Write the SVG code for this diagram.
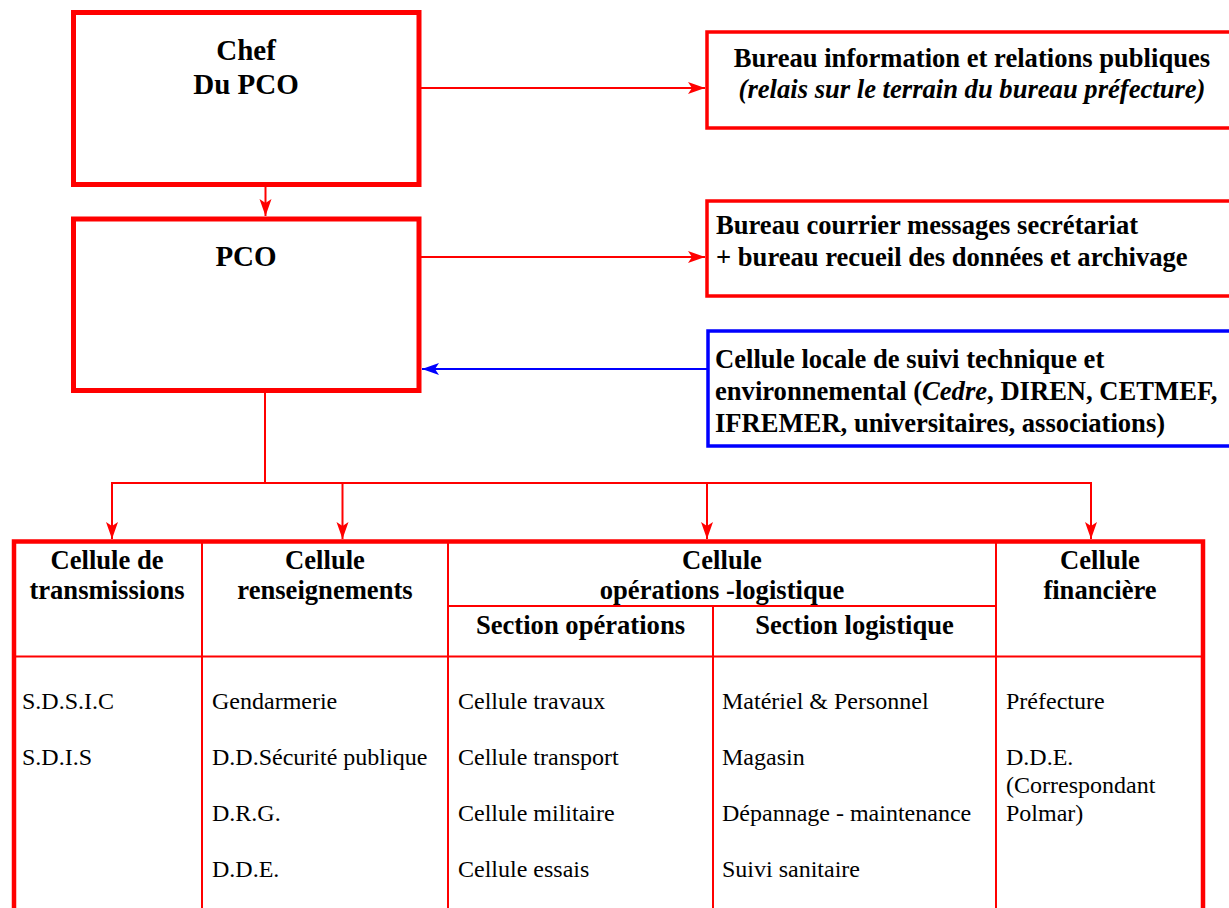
<svg xmlns="http://www.w3.org/2000/svg" width="1229" height="908" viewBox="0 0 1229 908">
<style>
.box{fill:#fff;stroke:#ff0000;stroke-width:5}
.sbox{fill:#fff;stroke:#ff0000;stroke-width:3.5}
.bbox{fill:#fff;stroke:#0000ff;stroke-width:3.5}
.con{fill:none;stroke:#ff0000;stroke-width:2}
.bcon{fill:none;stroke:#0000ff;stroke-width:2}
.grid{fill:none;stroke:#ff0000;stroke-width:2}
.outer{fill:none;stroke:#ff0000;stroke-width:4.5}
text{font-family:"Liberation Serif","Times New Roman",serif;fill:#000}
.big{font-size:29px;font-weight:bold}
.hb{font-size:26.6px;font-weight:bold}
.rg{font-size:24px}
.mid{text-anchor:middle}
</style>
<defs>
<marker id="ar" markerUnits="userSpaceOnUse" markerWidth="20" markerHeight="14" viewBox="-18 -7 20 14" refX="0" refY="0" orient="auto">
<path d="M0,0 L-17,-6 L-13,0 L-17,6 Z" fill="#ff0000"/>
</marker>
<marker id="ab" markerUnits="userSpaceOnUse" markerWidth="20" markerHeight="14" viewBox="-18 -7 20 14" refX="0" refY="0" orient="auto">
<path d="M0,0 L-17,-6 L-13,0 L-17,6 Z" fill="#0000ff"/>
</marker>
</defs>

<g id="connectors">
<line class="con" x1="421" y1="88" x2="705" y2="88" marker-end="url(#ar)"/>
<line class="con" x1="265.5" y1="182" x2="265.5" y2="216" marker-end="url(#ar)"/>
<line class="con" x1="421" y1="257" x2="705" y2="257" marker-end="url(#ar)"/>
<line class="bcon" x1="707" y1="369" x2="422" y2="369" marker-end="url(#ab)"/>
<line class="con" x1="265" y1="392" x2="265" y2="483"/>
<line class="con" x1="111" y1="483" x2="1092" y2="483"/>
<line class="con" x1="112" y1="483" x2="112" y2="539" marker-end="url(#ar)"/>
<line class="con" x1="342.5" y1="483" x2="342.5" y2="539" marker-end="url(#ar)"/>
<line class="con" x1="707" y1="483" x2="707" y2="539" marker-end="url(#ar)"/>
<line class="con" x1="1091" y1="483" x2="1091" y2="539" marker-end="url(#ar)"/>
</g>

<g id="chef">
<rect class="box" x="73.5" y="12.5" width="345.5" height="172"/>
<text class="big mid" x="246" y="60">Chef</text>
<text class="big mid" x="246" y="94">Du PCO</text>
</g>

<g id="pco">
<rect class="box" x="73.5" y="219" width="345.5" height="171.5"/>
<text class="big mid" x="246" y="266">PCO</text>
</g>

<g id="bureau-info">
<rect class="sbox" x="707" y="32" width="540" height="96"/>
<text class="hb mid" x="972" y="67">Bureau information et relations publiques</text>
<text class="hb mid" x="972" y="98" font-style="italic">(relais sur le terrain du bureau préfecture)</text>
</g>

<g id="bureau-courrier">
<rect class="sbox" x="707" y="201" width="540" height="95"/>
<text class="hb" x="716" y="234">Bureau courrier messages secrétariat</text>
<text class="hb" x="716" y="266">+ bureau recueil des données et archivage</text>
</g>

<g id="cellule-locale">
<rect class="bbox" x="708" y="331" width="540" height="115"/>
<text class="hb" x="715" y="368">Cellule locale de suivi technique et</text>
<text class="hb" x="715" y="400">environnemental (<tspan font-style="italic">Cedre</tspan>, DIREN, CETMEF,</text>
<text class="hb" x="715" y="432">IFREMER, universitaires, associations)</text>
</g>

<g id="table">
<line class="grid" x1="14" y1="656.5" x2="1203" y2="656.5"/>
<line class="grid" x1="448" y1="606" x2="996" y2="606"/>
<line class="grid" x1="202" y1="541.5" x2="202" y2="915"/>
<line class="grid" x1="448" y1="541.5" x2="448" y2="915"/>
<line class="grid" x1="713" y1="606" x2="713" y2="915"/>
<line class="grid" x1="996" y1="541.5" x2="996" y2="915"/>
<rect class="outer" x="14" y="541.5" width="1189" height="400"/>
</g>

<g id="cellule-transmissions">
<text class="hb mid" x="107" y="569">Cellule de</text>
<text class="hb mid" x="107" y="599">transmissions</text>
<text class="rg" x="22" y="709">S.D.S.I.C</text>
<text class="rg" x="22" y="765">S.D.I.S</text>
</g>

<g id="cellule-renseignements">
<text class="hb mid" x="325" y="569">Cellule</text>
<text class="hb mid" x="325" y="599">renseignements</text>
<text class="rg" x="212" y="709">Gendarmerie</text>
<text class="rg" x="212" y="765">D.D.Sécurité publique</text>
<text class="rg" x="212" y="821">D.R.G.</text>
<text class="rg" x="212" y="877">D.D.E.</text>
</g>

<g id="cellule-operations-logistique">
<text class="hb mid" x="722" y="569">Cellule</text>
<text class="hb mid" x="722" y="599">opérations -logistique</text>
</g>

<g id="section-operations">
<text class="hb mid" x="580.5" y="634">Section opérations</text>
<text class="rg" x="458" y="709">Cellule travaux</text>
<text class="rg" x="458" y="765">Cellule transport</text>
<text class="rg" x="458" y="821">Cellule militaire</text>
<text class="rg" x="458" y="877">Cellule essais</text>
</g>

<g id="section-logistique">
<text class="hb mid" x="854.5" y="634">Section logistique</text>
<text class="rg" x="722" y="709">Matériel &amp; Personnel</text>
<text class="rg" x="722" y="765">Magasin</text>
<text class="rg" x="722" y="821">Dépannage - maintenance</text>
<text class="rg" x="722" y="877">Suivi sanitaire</text>
</g>

<g id="cellule-financiere">
<text class="hb mid" x="1100" y="569">Cellule</text>
<text class="hb mid" x="1100" y="599">financière</text>
<text class="rg" x="1006" y="709">Préfecture</text>
<text class="rg" x="1006" y="765">D.D.E.</text>
<text class="rg" x="1006" y="793">(Correspondant</text>
<text class="rg" x="1006" y="821">Polmar)</text>
</g>
</svg>
